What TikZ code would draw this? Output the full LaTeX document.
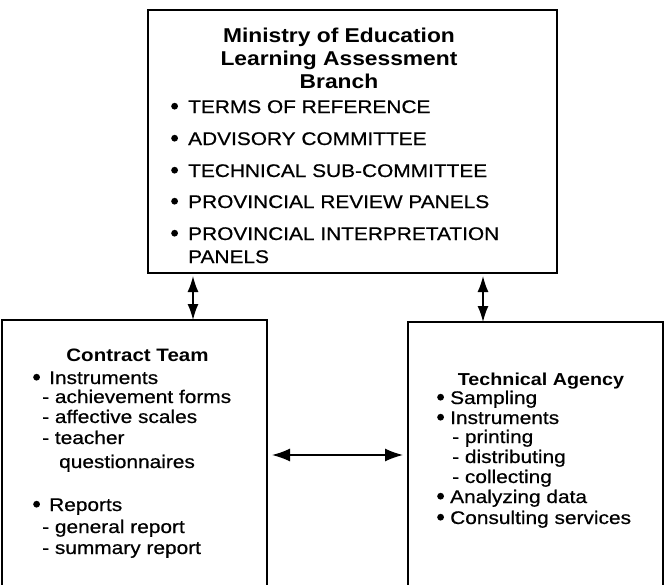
\documentclass[tikz,border=0pt]{standalone}
\usepackage{fontspec}
\setmainfont{Liberation Sans}[FakeStretch=1.14, UprightFeatures={FakeBold=0.6}]
\usepackage{tikz}
\usetikzlibrary{arrows.meta}
\newcommand{\bl}[1][17pt]{\makebox[#1][l]{\tikz[baseline=0pt]\fill (3.4pt,6.8pt) circle (3.4pt);}}

\begin{document}
\begin{tikzpicture}[x=1pt, y=-1pt,
  box/.style={draw, line width=1.8pt, inner sep=0pt, outer sep=0pt},
  txt/.style={anchor=base west, inner sep=0pt, font=\fontsize{18.3}{20}\selectfont},
  head/.style={anchor=base, inner sep=0pt, font=\bfseries\fontsize{18}{20}\selectfont},
  vlink/.style={{Latex[length=16pt,width=11pt]}-{Latex[length=16pt,width=11pt]}, line width=1.5pt},
  hlink/.style={{Latex[length=18pt,width=13pt]}-{Latex[length=18pt,width=13pt]}, line width=1.5pt}]
\useasboundingbox (0,0) rectangle (667,584);
\clip (0,0) rectangle (667,584);

\node[box, minimum width=409pt, minimum height=263pt] (ministry) at (352.5,141.5) {};
\node[box, minimum width=265pt, minimum height=290pt] (contract) at (134.5,465) {};
\node[box, minimum width=255pt, minimum height=288pt] (agency) at (535.5,466) {};

\node[head, font=\bfseries\fontsize{20}{22}\selectfont] (title1) at (339,42) {Ministry of Education};
\node[head, font=\bfseries\fontsize{20}{22}\selectfont] (title2) at (339,65) {Learning Assessment};
\node[head, font=\bfseries\fontsize{20}{22}\selectfont] (title3) at (339,88) {Branch};
\node[txt] (terms) at (171,113) {\bl[17pt]TERMS OF REFERENCE};
\node[txt] (advisory) at (171,145) {\bl[17pt]ADVISORY COMMITTEE};
\node[txt] (techsub) at (171,177) {\bl[17pt]TECHNICAL SUB-COMMITTEE};
\node[txt] (review) at (171,208) {\bl[17pt]PROVINCIAL REVIEW PANELS};
\node[txt] (interp) at (171,240) {\bl[17pt]PROVINCIAL INTERPRETATION};
\node[txt] (interpb) at (188,263) {PANELS};

\node[head] (cthead) at (137.5,361) {Contract Team};
\node[txt] (linstr) at (33,384) {\bl[16pt]Instruments};
\node[txt] (lach) at (42,403) {- achievement forms};
\node[txt] (laff) at (42,423) {- affective scales};
\node[txt] (lteach) at (42,444) {- teacher};
\node[txt] (lquest) at (59,468) {questionnaires};
\node[txt] (lrep) at (33,511) {\bl[16pt]Reports};
\node[txt] (lgen) at (42,533) {- general report};
\node[txt] (lsum) at (42,554) {- summary report};

\node[head, font=\bfseries\fontsize{17.3}{20}\selectfont] (tahead) at (541,385) {Technical Agency};
\node[txt] (rsamp) at (437,404) {\bl[13pt]Sampling};
\node[txt] (rinstr) at (437,424) {\bl[13pt]Instruments};
\node[txt] (rprint) at (452,443) {- printing};
\node[txt] (rdist) at (452,463) {- distributing};
\node[txt] (rcoll) at (452,483) {- collecting};
\node[txt] (ranal) at (437,503) {\bl[13pt]Analyzing data};
\node[txt] (rcons) at (437,524) {\bl[13pt]Consulting services};

\coordinate (lnk1) at (193,0);
\coordinate (lnk2) at (483,0);
\coordinate (lnk3) at (0,455);
\draw[vlink, shorten <=3pt] (ministry.south -| lnk1) -- (contract.north -| lnk1);
\draw[vlink, shorten <=3pt] (ministry.south -| lnk2) -- (agency.north -| lnk2);
\draw[hlink, shorten <=5pt, shorten >=5pt] (contract.east |- lnk3) -- (agency.west |- lnk3);
\end{tikzpicture}
\end{document}
